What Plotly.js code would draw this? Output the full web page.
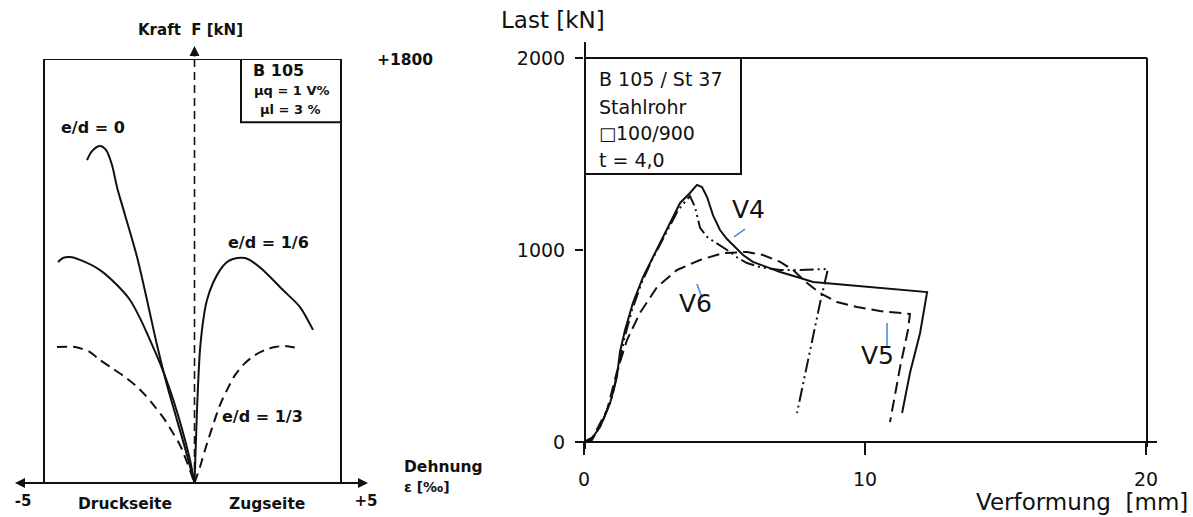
<!DOCTYPE html>
<html>
<head>
<meta charset="utf-8">
<script src="https://cdn.plot.ly/plotly-3.0.1.min.js"></script>
<style>html,body{margin:0;padding:0;background:#fff;}#chart{width:1193px;height:517px;}</style>
</head>
<body>
<div id="chart"></div>
<script>
// ---------- Left panel: Kraft F [kN] vs Dehnung ε [‰] ----------
const ed0_x = [-3.134, -2.988, -2.755, -2.580, -2.405, -2.259, -2.026, -1.676, -1.385, -1.093, -0.802, -0.510, -0.277, -0.102, 0];
const ed0_y = [1371, 1409, 1431, 1414, 1350, 1256, 1138, 960, 777, 586, 416, 267, 149, 55, 0];

const ed16_left_x = [-3.980, -3.834, -3.630, -3.338, -2.755, -2.318, -1.880, -1.589, -1.297, -1.006, -0.714, -0.481, -0.277, -0.131, 0];
const ed16_left_y = [938, 955, 959, 947, 904, 849, 777, 700, 607, 509, 395, 289, 183, 98, 0];
const ed16_right_x = [0, 0.073, 0.160, 0.277, 0.364, 0.539, 0.743, 0.948, 1.122, 1.472, 1.706, 1.997, 2.580, 3.076, 3.455];
const ed16_right_y = [0, 310, 565, 713, 777, 849, 904, 938, 951, 955, 938, 904, 819, 747, 650];

const ed13_left_x = [-4.009, -3.484, -3.047, -2.755, -2.405, -2.026, -1.735, -1.443, -1.152, -0.860, -0.627, -0.423, -0.219, 0];
const ed13_left_y = [577, 577, 556, 522, 488, 450, 416, 374, 323, 267, 212, 161, 89, 0];
const ed13_right_x = [0, 0.160, 0.306, 0.510, 0.743, 0.948, 1.181, 1.472, 1.764, 2.055, 2.347, 2.638, 2.988];
const ed13_right_y = [0, 68, 140, 233, 331, 395, 458, 509, 543, 565, 577, 582, 573];

const leftTickVals = [-5, 5];
const leftTickText = ['-5', '+5'];

// ---------- Right panel: Last [kN] vs Verformung [mm] ----------
const solidV4_x = [0, 0.21, 0.57, 0.93, 1.17, 1.28, 1.46, 1.74, 2.10, 2.46, 2.95, 3.42, 3.77, 4.02, 4.20, 4.38, 4.59, 4.84, 5.09, 5.37, 5.66, 6.01, 6.51, 6.98, 7.58, 8.15, 9.36, 10.53, 12.21, 11.96, 11.60, 11.32];
const solidV4_y = [0, 5, 78, 203, 339, 469, 583, 724, 859, 964, 1104, 1245, 1297, 1339, 1328, 1276, 1182, 1104, 1057, 1016, 974, 938, 911, 885, 859, 833, 818, 802, 781, 568, 359, 151];

const dashdot_x = [0, 0.28, 0.64, 1.00, 1.21, 1.42, 1.71, 2.06, 2.42, 2.88, 3.35, 3.77, 3.95, 4.13, 4.38, 4.59, 5.20, 5.48, 5.80, 6.26, 6.98, 7.69, 8.68, 8.40, 8.15, 7.86, 7.58];
const dashdot_y = [0, 10, 99, 234, 375, 531, 688, 833, 948, 1078, 1208, 1281, 1224, 1115, 1068, 1047, 990, 958, 932, 911, 896, 896, 901, 724, 547, 339, 151];

const dashedV5_x = [0, 0.32, 0.82, 1.17, 1.53, 1.99, 2.60, 3.31, 4.13, 4.95, 5.80, 6.37, 6.98, 7.44, 7.94, 8.40, 9.00, 9.72, 10.53, 11.60, 11.53, 11.25, 10.89];
const dashedV5_y = [0, 26, 167, 365, 531, 672, 807, 896, 948, 984, 990, 974, 938, 896, 828, 776, 729, 703, 682, 667, 583, 391, 104];

const rightXTicks = [0, 10, 20];
const rightYTicks = [0, 1000, 2000];

// ---------- helpers (layout positions in pixels -> paper) ----------
const W = 1193, H = 517;
const PX = x => x / W;
const PY = y => 1 - y / H;
const INK = '#111';
const BLUE = '#4a8fdc';
const fL = (size) => ({family: 'DejaVu Sans', size: size, color: INK, weight: 'bold'});
const fR = (size) => ({family: 'DejaVu Sans', size: size, color: INK});

function tr(x, y, xa, ya, dash, smooth) {
  return {
    x: x, y: y, xaxis: xa, yaxis: ya, type: 'scatter', mode: 'lines',
    line: {color: INK, width: 2, dash: dash, shape: smooth ? 'spline' : 'linear', smoothing: 0.8},
    hoverinfo: 'skip', showlegend: false
  };
}

const data = [
  tr(ed0_x, ed0_y, 'x', 'y', 'solid', true),
  tr(ed16_left_x, ed16_left_y, 'x', 'y', 'solid', true),
  tr(ed16_right_x, ed16_right_y, 'x', 'y', 'solid', true),
  tr(ed13_left_x, ed13_left_y, 'x', 'y', '10px,6px', true),
  tr(ed13_right_x, ed13_right_y, 'x', 'y', '10px,6px', true),
  tr(solidV4_x, solidV4_y, 'x2', 'y2', 'solid', false),
  tr(dashdot_x, dashdot_y, 'x2', 'y2', '14px,4px,2px,4px,2px,4px', false),
  tr(dashedV5_x, dashedV5_y, 'x2', 'y2', '12px,6px', false)
];

const frameL = {x0: -4.388, x1: 4.271, y0: 0, y1: 1800};
const lineShape = (x0, y0, x1, y1, xref, yref, extra) => Object.assign({
  type: 'line', x0: x0, y0: y0, x1: x1, y1: y1, xref: xref, yref: yref,
  line: {color: INK, width: 2}
}, extra || {});

const shapes = [
  // left frame
  lineShape(frameL.x0, frameL.y0, frameL.x0, frameL.y1, 'x', 'y'),
  lineShape(frameL.x0, frameL.y1, frameL.x1, frameL.y1, 'x', 'y'),
  lineShape(frameL.x1, frameL.y1, frameL.x1, frameL.y0, 'x', 'y'),
  // left info box
  {type: 'rect', xref: 'x', yref: 'y', x0: 1.356, x1: frameL.x1, y0: 1532, y1: 1800, line: {color: INK, width: 2}},
  // left vertical dashed force axis
  lineShape(0, PY(483), 0, PY(54), 'x', 'paper', {line: {color: INK, width: 1.6, dash: '8px,5px'}}),
  // right frame
  lineShape(PX(585), PY(58), PX(1147), PY(58), 'paper', 'paper'),
  lineShape(PX(1147), PY(58), PX(1147), PY(447), 'paper', 'paper'),
  lineShape(PX(577), PY(442), PX(1157), PY(442), 'paper', 'paper'),
  lineShape(PX(585), PY(42), PX(585), PY(449), 'paper', 'paper'),
  // right info box
  {type: 'rect', xref: 'paper', yref: 'paper', x0: PX(585), x1: PX(741), y0: PY(174), y1: PY(58), line: {color: INK, width: 2}},
  // blue leader lines
  lineShape(5.338, 1068, 5.730, 1109, 'x2', 'y2', {line: {color: BLUE, width: 1.6}}),
  lineShape(4.021, 823, 4.199, 750, 'x2', 'y2', {line: {color: BLUE, width: 1.6}}),
  lineShape(10.783, 620, 10.783, 490, 'x2', 'y2', {line: {color: BLUE, width: 1.6}})
];

const ann = (text, x, y, font, xanchor) => ({
  text: text, x: PX(x), y: PY(y), xref: 'paper', yref: 'paper', showarrow: false,
  font: font, xanchor: xanchor || 'center', yanchor: 'middle', align: 'left'
});
const arrow = (hx, hy, ax, ay) => ({
  text: '', x: PX(hx), y: PY(hy), xref: 'paper', yref: 'paper', showarrow: true,
  ax: ax, ay: ay, arrowhead: 2, arrowsize: 1, arrowwidth: 2, arrowcolor: INK
});

const annotations = [
  ann('Kraft  F [kN]', 190, 30, fL(15)),
  ann('+1800', 405, 60, fL(15.5)),
  ann('B 105', 278, 70, fL(16)),
  ann('μq = 1 V%', 291, 90, fL(13)),
  ann('μl = 3 %', 290, 110, fL(13)),
  ann('e/d = 0', 93, 128, fL(16)),
  ann('e/d = 1/6', 268, 243, fL(16)),
  ann('e/d = 1/3', 262, 416, fL(16)),
  ann('Druckseite', 125, 504, fL(15.5)),
  ann('Zugseite', 267, 504, fL(15.5)),
  ann('Dehnung', 402, 467, fL(15.5), 'left'),
  ann('ε [‰]', 402, 487, fL(14), 'left'),
  arrow(194.5, 46, 0, 12),
  arrow(15, 483, 185, 0),
  arrow(368, 483, -185, 0),
  // right panel
  ann('Last [kN]', 553, 20, fR(23)),
  ann('Verformung  [mm]', 1082, 502, fR(23)),
  ann('B 105 / St 37', 597, 79, fR(19), 'left'),
  ann('Stahlrohr', 597, 107, fR(19), 'left'),
  ann('<span style="font-size:18px">□</span>100/900', 597, 133, fR(19), 'left'),
  ann('t = 4,0', 597, 160, fR(19), 'left'),
  ann('V4', 748, 209, fR(25)),
  ann('V6', 695, 303, fR(25)),
  ann('V5', 877, 355, fR(25))
];

const layout = {
  width: W, height: H,
  margin: {l: 0, r: 0, t: 0, b: 0},
  paper_bgcolor: '#fff', plot_bgcolor: 'rgba(0,0,0,0)',
  showlegend: false,
  xaxis: {
    domain: [PX(23), PX(366)], range: [-5, 5], anchor: 'y',
    showgrid: false, zeroline: false, showline: false, ticks: '',
    tickmode: 'array', tickvals: leftTickVals, ticktext: leftTickText,
    tickfont: fL(15), ticklabelstandoff: 7, fixedrange: true
  },
  yaxis: {
    domain: [PY(483), PY(59)], range: [0, 1800], anchor: 'x',
    visible: false, fixedrange: true
  },
  xaxis2: {
    domain: [PX(584), PX(1146)], range: [0, 20], anchor: 'y2',
    showgrid: false, zeroline: false, showline: false,
    ticks: 'outside', ticklen: 12, tickwidth: 2, tickcolor: INK,
    tickmode: 'array', tickvals: rightXTicks,
    tickfont: fR(19), ticklabelstandoff: 8, fixedrange: true
  },
  yaxis2: {
    domain: [PY(442), PY(58)], range: [0, 2000], anchor: 'x2',
    showgrid: false, zeroline: false, showline: false,
    ticks: 'outside', ticklen: 8, tickwidth: 2, tickcolor: INK,
    tickmode: 'array', tickvals: rightYTicks,
    tickfont: fR(19), ticklabelstandoff: 6, fixedrange: true
  },
  shapes: shapes,
  annotations: annotations
};

Plotly.newPlot('chart', data, layout, {displayModeBar: false, staticPlot: true});
</script>
</body>
</html>
